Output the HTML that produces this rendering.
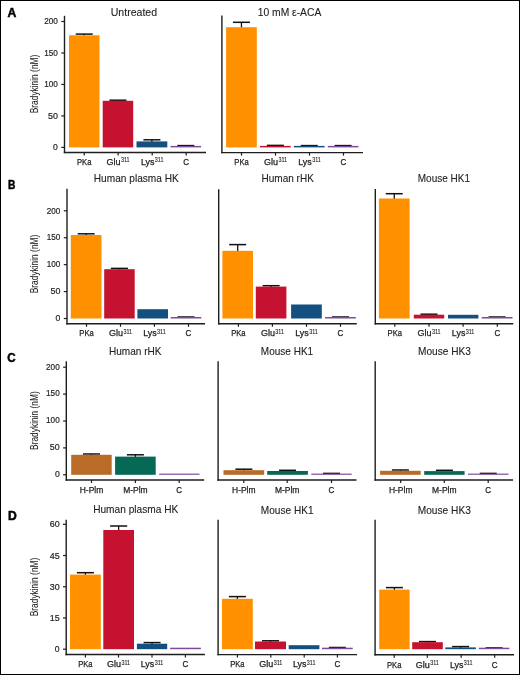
<!DOCTYPE html>
<html><head><meta charset="utf-8"><style>
html,body{margin:0;padding:0;background:#fff;}
body{width:520px;height:675px;overflow:hidden;position:relative;}
svg{position:absolute;left:0;top:0;display:block;will-change:transform;}
text{font-family:"Liberation Sans", sans-serif;}
.frame{position:absolute;left:0;top:0;width:520px;height:675px;box-sizing:border-box;border-style:solid;border-color:#000;border-width:1px 1.5px 1.5px 1px;}
</style></head><body>
<svg width="520" height="675" viewBox="0 0 520 675">
<rect x="0" y="0" width="520" height="675" fill="#fff"/>
<line x1="64.50" y1="15.80" x2="64.50" y2="153.20" stroke="#1e1e1e" stroke-width="1.4"/>
<line x1="63.80" y1="152.50" x2="206.00" y2="152.50" stroke="#1e1e1e" stroke-width="1.4"/>
<line x1="61.30" y1="147.40" x2="64.50" y2="147.40" stroke="#1e1e1e" stroke-width="1.2"/>
<text x="57.90" y="150.10" font-size="9.4" text-anchor="end" font-weight="normal" fill="#222" stroke="#222" stroke-width="0.2" textLength="4.80" lengthAdjust="spacingAndGlyphs">0</text>
<line x1="61.30" y1="115.93" x2="64.50" y2="115.93" stroke="#1e1e1e" stroke-width="1.2"/>
<text x="57.90" y="118.63" font-size="9.4" text-anchor="end" font-weight="normal" fill="#222" stroke="#222" stroke-width="0.2" textLength="9.90" lengthAdjust="spacingAndGlyphs">50</text>
<line x1="61.30" y1="84.45" x2="64.50" y2="84.45" stroke="#1e1e1e" stroke-width="1.2"/>
<text x="57.90" y="87.15" font-size="9.4" text-anchor="end" font-weight="normal" fill="#222" stroke="#222" stroke-width="0.2" textLength="13.60" lengthAdjust="spacingAndGlyphs">100</text>
<line x1="61.30" y1="52.98" x2="64.50" y2="52.98" stroke="#1e1e1e" stroke-width="1.2"/>
<text x="57.90" y="55.68" font-size="9.4" text-anchor="end" font-weight="normal" fill="#222" stroke="#222" stroke-width="0.2" textLength="13.60" lengthAdjust="spacingAndGlyphs">150</text>
<line x1="61.30" y1="21.50" x2="64.50" y2="21.50" stroke="#1e1e1e" stroke-width="1.2"/>
<text x="57.90" y="24.20" font-size="9.4" text-anchor="end" font-weight="normal" fill="#222" stroke="#222" stroke-width="0.2" textLength="13.60" lengthAdjust="spacingAndGlyphs">200</text>
<line x1="84.25" y1="34.10" x2="84.25" y2="35.80" stroke="#111" stroke-width="1.3"/>
<line x1="75.75" y1="34.10" x2="92.75" y2="34.10" stroke="#111" stroke-width="1.5"/>
<rect x="69.00" y="35.30" width="30.50" height="112.10" fill="#FF9100"/>
<line x1="117.95" y1="100.20" x2="117.95" y2="101.30" stroke="#111" stroke-width="1.3"/>
<line x1="109.45" y1="100.20" x2="126.45" y2="100.20" stroke="#111" stroke-width="1.5"/>
<rect x="102.70" y="100.80" width="30.50" height="46.60" fill="#C41230"/>
<line x1="151.90" y1="139.80" x2="151.90" y2="141.90" stroke="#111" stroke-width="1.3"/>
<line x1="143.40" y1="139.80" x2="160.40" y2="139.80" stroke="#111" stroke-width="1.5"/>
<rect x="136.50" y="141.40" width="30.80" height="6.00" fill="#13507F"/>
<line x1="185.80" y1="145.60" x2="185.80" y2="146.50" stroke="#111" stroke-width="1.3"/>
<line x1="177.30" y1="145.60" x2="194.30" y2="145.60" stroke="#111" stroke-width="1.5"/>
<rect x="170.50" y="145.90" width="30.60" height="1.50" fill="#7E4B9C"/>
<line x1="84.20" y1="152.50" x2="84.20" y2="155.50" stroke="#1e1e1e" stroke-width="1.2"/>
<text x="84.20" y="164.50" font-size="8.9" text-anchor="middle" font-weight="normal" fill="#222" stroke="#222" stroke-width="0.25" textLength="14.40" lengthAdjust="spacingAndGlyphs">PKa</text>
<line x1="118.10" y1="152.50" x2="118.10" y2="155.50" stroke="#1e1e1e" stroke-width="1.2"/>
<text x="106.60" y="164.50" font-size="8.9" text-anchor="start" font-weight="normal" fill="#222" stroke="#222" stroke-width="0.25" textLength="14.00" lengthAdjust="spacingAndGlyphs">Glu</text>
<text x="121.00" y="162.20" font-size="6.8" text-anchor="start" font-weight="normal" fill="#222" stroke="#222" stroke-width="0.1" textLength="8.60" lengthAdjust="spacingAndGlyphs">311</text>
<line x1="152.20" y1="152.50" x2="152.20" y2="155.50" stroke="#1e1e1e" stroke-width="1.2"/>
<text x="140.95" y="164.50" font-size="8.9" text-anchor="start" font-weight="normal" fill="#222" stroke="#222" stroke-width="0.25" textLength="13.50" lengthAdjust="spacingAndGlyphs">Lys</text>
<text x="154.85" y="162.20" font-size="6.8" text-anchor="start" font-weight="normal" fill="#222" stroke="#222" stroke-width="0.1" textLength="8.60" lengthAdjust="spacingAndGlyphs">311</text>
<line x1="186.20" y1="152.50" x2="186.20" y2="155.50" stroke="#1e1e1e" stroke-width="1.2"/>
<text x="186.20" y="164.50" font-size="8.9" text-anchor="middle" font-weight="normal" fill="#222" stroke="#222" stroke-width="0.25" textLength="5.80" lengthAdjust="spacingAndGlyphs">C</text>
<text x="133.90" y="15.90" font-size="10.6" text-anchor="middle" font-weight="normal" fill="#222" stroke="#222" stroke-width="0.1" textLength="46.40" lengthAdjust="spacingAndGlyphs">Untreated</text>
<line x1="221.90" y1="15.40" x2="221.90" y2="153.30" stroke="#1e1e1e" stroke-width="1.4"/>
<line x1="221.20" y1="152.60" x2="363.00" y2="152.60" stroke="#1e1e1e" stroke-width="1.4"/>
<line x1="241.45" y1="22.30" x2="241.45" y2="27.70" stroke="#111" stroke-width="1.3"/>
<line x1="232.95" y1="22.30" x2="249.95" y2="22.30" stroke="#111" stroke-width="1.5"/>
<rect x="226.10" y="27.20" width="30.70" height="120.20" fill="#FF9100"/>
<line x1="275.35" y1="145.40" x2="275.35" y2="146.40" stroke="#111" stroke-width="1.3"/>
<line x1="266.85" y1="145.40" x2="283.85" y2="145.40" stroke="#111" stroke-width="1.5"/>
<rect x="260.00" y="145.90" width="30.70" height="1.50" fill="#C41230"/>
<line x1="309.25" y1="145.60" x2="309.25" y2="146.50" stroke="#111" stroke-width="1.3"/>
<line x1="300.75" y1="145.60" x2="317.75" y2="145.60" stroke="#111" stroke-width="1.5"/>
<rect x="293.90" y="145.90" width="30.70" height="1.50" fill="#13507F"/>
<line x1="343.10" y1="145.60" x2="343.10" y2="146.50" stroke="#111" stroke-width="1.3"/>
<line x1="334.60" y1="145.60" x2="351.60" y2="145.60" stroke="#111" stroke-width="1.5"/>
<rect x="327.80" y="145.90" width="30.60" height="1.50" fill="#7E4B9C"/>
<line x1="241.50" y1="152.60" x2="241.50" y2="155.60" stroke="#1e1e1e" stroke-width="1.2"/>
<text x="241.50" y="164.60" font-size="8.9" text-anchor="middle" font-weight="normal" fill="#222" stroke="#222" stroke-width="0.25" textLength="14.40" lengthAdjust="spacingAndGlyphs">PKa</text>
<line x1="275.50" y1="152.60" x2="275.50" y2="155.60" stroke="#1e1e1e" stroke-width="1.2"/>
<text x="264.00" y="164.60" font-size="8.9" text-anchor="start" font-weight="normal" fill="#222" stroke="#222" stroke-width="0.25" textLength="14.00" lengthAdjust="spacingAndGlyphs">Glu</text>
<text x="278.40" y="162.30" font-size="6.8" text-anchor="start" font-weight="normal" fill="#222" stroke="#222" stroke-width="0.1" textLength="8.60" lengthAdjust="spacingAndGlyphs">311</text>
<line x1="309.50" y1="152.60" x2="309.50" y2="155.60" stroke="#1e1e1e" stroke-width="1.2"/>
<text x="298.25" y="164.60" font-size="8.9" text-anchor="start" font-weight="normal" fill="#222" stroke="#222" stroke-width="0.25" textLength="13.50" lengthAdjust="spacingAndGlyphs">Lys</text>
<text x="312.15" y="162.30" font-size="6.8" text-anchor="start" font-weight="normal" fill="#222" stroke="#222" stroke-width="0.1" textLength="8.60" lengthAdjust="spacingAndGlyphs">311</text>
<line x1="343.50" y1="152.60" x2="343.50" y2="155.60" stroke="#1e1e1e" stroke-width="1.2"/>
<text x="343.50" y="164.60" font-size="8.9" text-anchor="middle" font-weight="normal" fill="#222" stroke="#222" stroke-width="0.25" textLength="5.80" lengthAdjust="spacingAndGlyphs">C</text>
<text x="289.50" y="15.90" font-size="10.6" text-anchor="middle" font-weight="normal" fill="#222" stroke="#222" stroke-width="0.1" textLength="63.50" lengthAdjust="spacingAndGlyphs">10 mM ε-ACA</text>
<line x1="67.00" y1="188.80" x2="67.00" y2="324.50" stroke="#1e1e1e" stroke-width="1.4"/>
<line x1="66.30" y1="323.80" x2="205.00" y2="323.80" stroke="#1e1e1e" stroke-width="1.4"/>
<line x1="63.80" y1="318.50" x2="67.00" y2="318.50" stroke="#1e1e1e" stroke-width="1.2"/>
<text x="60.40" y="321.20" font-size="9.4" text-anchor="end" font-weight="normal" fill="#222" stroke="#222" stroke-width="0.2" textLength="4.80" lengthAdjust="spacingAndGlyphs">0</text>
<line x1="63.80" y1="291.57" x2="67.00" y2="291.57" stroke="#1e1e1e" stroke-width="1.2"/>
<text x="60.40" y="294.27" font-size="9.4" text-anchor="end" font-weight="normal" fill="#222" stroke="#222" stroke-width="0.2" textLength="9.90" lengthAdjust="spacingAndGlyphs">50</text>
<line x1="63.80" y1="264.65" x2="67.00" y2="264.65" stroke="#1e1e1e" stroke-width="1.2"/>
<text x="60.40" y="267.35" font-size="9.4" text-anchor="end" font-weight="normal" fill="#222" stroke="#222" stroke-width="0.2" textLength="13.60" lengthAdjust="spacingAndGlyphs">100</text>
<line x1="63.80" y1="237.73" x2="67.00" y2="237.73" stroke="#1e1e1e" stroke-width="1.2"/>
<text x="60.40" y="240.43" font-size="9.4" text-anchor="end" font-weight="normal" fill="#222" stroke="#222" stroke-width="0.2" textLength="13.60" lengthAdjust="spacingAndGlyphs">150</text>
<line x1="63.80" y1="210.80" x2="67.00" y2="210.80" stroke="#1e1e1e" stroke-width="1.2"/>
<text x="60.40" y="213.50" font-size="9.4" text-anchor="end" font-weight="normal" fill="#222" stroke="#222" stroke-width="0.2" textLength="13.60" lengthAdjust="spacingAndGlyphs">200</text>
<line x1="86.15" y1="233.80" x2="86.15" y2="235.50" stroke="#111" stroke-width="1.3"/>
<line x1="77.65" y1="233.80" x2="94.65" y2="233.80" stroke="#111" stroke-width="1.5"/>
<rect x="70.80" y="235.00" width="30.70" height="83.50" fill="#FF9100"/>
<line x1="119.45" y1="268.40" x2="119.45" y2="269.70" stroke="#111" stroke-width="1.3"/>
<line x1="110.95" y1="268.40" x2="127.95" y2="268.40" stroke="#111" stroke-width="1.5"/>
<rect x="104.20" y="269.20" width="30.50" height="49.30" fill="#C41230"/>
<rect x="137.40" y="309.20" width="30.60" height="9.30" fill="#13507F"/>
<line x1="186.00" y1="317.00" x2="186.00" y2="317.80" stroke="#111" stroke-width="1.3"/>
<line x1="177.50" y1="317.00" x2="194.50" y2="317.00" stroke="#111" stroke-width="1.5"/>
<rect x="170.70" y="317.00" width="30.60" height="1.50" fill="#7E4B9C"/>
<line x1="86.50" y1="323.80" x2="86.50" y2="326.80" stroke="#1e1e1e" stroke-width="1.2"/>
<text x="86.50" y="336.30" font-size="8.9" text-anchor="middle" font-weight="normal" fill="#222" stroke="#222" stroke-width="0.25" textLength="14.40" lengthAdjust="spacingAndGlyphs">PKa</text>
<line x1="120.50" y1="323.80" x2="120.50" y2="326.80" stroke="#1e1e1e" stroke-width="1.2"/>
<text x="109.00" y="336.30" font-size="8.9" text-anchor="start" font-weight="normal" fill="#222" stroke="#222" stroke-width="0.25" textLength="14.00" lengthAdjust="spacingAndGlyphs">Glu</text>
<text x="123.40" y="334.00" font-size="6.8" text-anchor="start" font-weight="normal" fill="#222" stroke="#222" stroke-width="0.1" textLength="8.60" lengthAdjust="spacingAndGlyphs">311</text>
<line x1="154.40" y1="323.80" x2="154.40" y2="326.80" stroke="#1e1e1e" stroke-width="1.2"/>
<text x="143.15" y="336.30" font-size="8.9" text-anchor="start" font-weight="normal" fill="#222" stroke="#222" stroke-width="0.25" textLength="13.50" lengthAdjust="spacingAndGlyphs">Lys</text>
<text x="157.05" y="334.00" font-size="6.8" text-anchor="start" font-weight="normal" fill="#222" stroke="#222" stroke-width="0.1" textLength="8.60" lengthAdjust="spacingAndGlyphs">311</text>
<line x1="188.50" y1="323.80" x2="188.50" y2="326.80" stroke="#1e1e1e" stroke-width="1.2"/>
<text x="188.50" y="336.30" font-size="8.9" text-anchor="middle" font-weight="normal" fill="#222" stroke="#222" stroke-width="0.25" textLength="5.80" lengthAdjust="spacingAndGlyphs">C</text>
<text x="136.30" y="182.30" font-size="10.6" text-anchor="middle" font-weight="normal" fill="#222" stroke="#222" stroke-width="0.1" textLength="85.00" lengthAdjust="spacingAndGlyphs">Human plasma HK</text>
<line x1="218.70" y1="189.20" x2="218.70" y2="324.50" stroke="#1e1e1e" stroke-width="1.4"/>
<line x1="218.00" y1="323.80" x2="356.80" y2="323.80" stroke="#1e1e1e" stroke-width="1.4"/>
<line x1="237.70" y1="244.60" x2="237.70" y2="251.30" stroke="#111" stroke-width="1.3"/>
<line x1="229.20" y1="244.60" x2="246.20" y2="244.60" stroke="#111" stroke-width="1.5"/>
<rect x="222.40" y="250.80" width="30.60" height="67.70" fill="#FF9100"/>
<line x1="271.10" y1="285.70" x2="271.10" y2="287.10" stroke="#111" stroke-width="1.3"/>
<line x1="262.60" y1="285.70" x2="279.60" y2="285.70" stroke="#111" stroke-width="1.5"/>
<rect x="255.80" y="286.60" width="30.60" height="31.90" fill="#C41230"/>
<rect x="291.10" y="304.50" width="30.70" height="14.00" fill="#13507F"/>
<line x1="340.45" y1="317.00" x2="340.45" y2="317.80" stroke="#111" stroke-width="1.3"/>
<line x1="331.95" y1="317.00" x2="348.95" y2="317.00" stroke="#111" stroke-width="1.5"/>
<rect x="325.10" y="317.00" width="30.70" height="1.50" fill="#7E4B9C"/>
<line x1="238.40" y1="323.80" x2="238.40" y2="326.80" stroke="#1e1e1e" stroke-width="1.2"/>
<text x="238.40" y="336.30" font-size="8.9" text-anchor="middle" font-weight="normal" fill="#222" stroke="#222" stroke-width="0.25" textLength="14.40" lengthAdjust="spacingAndGlyphs">PKa</text>
<line x1="272.40" y1="323.80" x2="272.40" y2="326.80" stroke="#1e1e1e" stroke-width="1.2"/>
<text x="260.90" y="336.30" font-size="8.9" text-anchor="start" font-weight="normal" fill="#222" stroke="#222" stroke-width="0.25" textLength="14.00" lengthAdjust="spacingAndGlyphs">Glu</text>
<text x="275.30" y="334.00" font-size="6.8" text-anchor="start" font-weight="normal" fill="#222" stroke="#222" stroke-width="0.1" textLength="8.60" lengthAdjust="spacingAndGlyphs">311</text>
<line x1="306.50" y1="323.80" x2="306.50" y2="326.80" stroke="#1e1e1e" stroke-width="1.2"/>
<text x="295.25" y="336.30" font-size="8.9" text-anchor="start" font-weight="normal" fill="#222" stroke="#222" stroke-width="0.25" textLength="13.50" lengthAdjust="spacingAndGlyphs">Lys</text>
<text x="309.15" y="334.00" font-size="6.8" text-anchor="start" font-weight="normal" fill="#222" stroke="#222" stroke-width="0.1" textLength="8.60" lengthAdjust="spacingAndGlyphs">311</text>
<line x1="340.50" y1="323.80" x2="340.50" y2="326.80" stroke="#1e1e1e" stroke-width="1.2"/>
<text x="340.50" y="336.30" font-size="8.9" text-anchor="middle" font-weight="normal" fill="#222" stroke="#222" stroke-width="0.25" textLength="5.80" lengthAdjust="spacingAndGlyphs">C</text>
<text x="287.70" y="182.20" font-size="10.6" text-anchor="middle" font-weight="normal" fill="#222" stroke="#222" stroke-width="0.1" textLength="52.30" lengthAdjust="spacingAndGlyphs">Human rHK</text>
<line x1="375.30" y1="189.10" x2="375.30" y2="324.50" stroke="#1e1e1e" stroke-width="1.4"/>
<line x1="374.60" y1="323.80" x2="513.30" y2="323.80" stroke="#1e1e1e" stroke-width="1.4"/>
<line x1="394.25" y1="193.70" x2="394.25" y2="199.00" stroke="#111" stroke-width="1.3"/>
<line x1="385.75" y1="193.70" x2="402.75" y2="193.70" stroke="#111" stroke-width="1.5"/>
<rect x="378.90" y="198.50" width="30.70" height="120.00" fill="#FF9100"/>
<line x1="429.00" y1="314.20" x2="429.00" y2="315.20" stroke="#111" stroke-width="1.3"/>
<line x1="420.50" y1="314.20" x2="437.50" y2="314.20" stroke="#111" stroke-width="1.5"/>
<rect x="413.80" y="314.70" width="30.40" height="3.80" fill="#C41230"/>
<rect x="448.00" y="314.80" width="30.40" height="3.70" fill="#13507F"/>
<line x1="497.10" y1="317.00" x2="497.10" y2="317.80" stroke="#111" stroke-width="1.3"/>
<line x1="488.60" y1="317.00" x2="505.60" y2="317.00" stroke="#111" stroke-width="1.5"/>
<rect x="481.70" y="317.00" width="30.80" height="1.50" fill="#7E4B9C"/>
<line x1="394.80" y1="323.80" x2="394.80" y2="326.80" stroke="#1e1e1e" stroke-width="1.2"/>
<text x="394.80" y="336.30" font-size="8.9" text-anchor="middle" font-weight="normal" fill="#222" stroke="#222" stroke-width="0.25" textLength="14.40" lengthAdjust="spacingAndGlyphs">PKa</text>
<line x1="429.00" y1="323.80" x2="429.00" y2="326.80" stroke="#1e1e1e" stroke-width="1.2"/>
<text x="417.50" y="336.30" font-size="8.9" text-anchor="start" font-weight="normal" fill="#222" stroke="#222" stroke-width="0.25" textLength="14.00" lengthAdjust="spacingAndGlyphs">Glu</text>
<text x="431.90" y="334.00" font-size="6.8" text-anchor="start" font-weight="normal" fill="#222" stroke="#222" stroke-width="0.1" textLength="8.60" lengthAdjust="spacingAndGlyphs">311</text>
<line x1="463.10" y1="323.80" x2="463.10" y2="326.80" stroke="#1e1e1e" stroke-width="1.2"/>
<text x="451.85" y="336.30" font-size="8.9" text-anchor="start" font-weight="normal" fill="#222" stroke="#222" stroke-width="0.25" textLength="13.50" lengthAdjust="spacingAndGlyphs">Lys</text>
<text x="465.75" y="334.00" font-size="6.8" text-anchor="start" font-weight="normal" fill="#222" stroke="#222" stroke-width="0.1" textLength="8.60" lengthAdjust="spacingAndGlyphs">311</text>
<line x1="497.30" y1="323.80" x2="497.30" y2="326.80" stroke="#1e1e1e" stroke-width="1.2"/>
<text x="497.30" y="336.30" font-size="8.9" text-anchor="middle" font-weight="normal" fill="#222" stroke="#222" stroke-width="0.25" textLength="5.80" lengthAdjust="spacingAndGlyphs">C</text>
<text x="443.90" y="182.20" font-size="10.6" text-anchor="middle" font-weight="normal" fill="#222" stroke="#222" stroke-width="0.1" textLength="52.30" lengthAdjust="spacingAndGlyphs">Mouse HK1</text>
<line x1="66.30" y1="361.30" x2="66.30" y2="480.70" stroke="#1e1e1e" stroke-width="1.4"/>
<line x1="65.60" y1="480.00" x2="204.20" y2="480.00" stroke="#1e1e1e" stroke-width="1.4"/>
<line x1="63.10" y1="474.80" x2="66.30" y2="474.80" stroke="#1e1e1e" stroke-width="1.2"/>
<text x="59.70" y="477.10" font-size="9.4" text-anchor="end" font-weight="normal" fill="#222" stroke="#222" stroke-width="0.2" textLength="4.80" lengthAdjust="spacingAndGlyphs">0</text>
<line x1="63.10" y1="447.90" x2="66.30" y2="447.90" stroke="#1e1e1e" stroke-width="1.2"/>
<text x="59.70" y="450.20" font-size="9.4" text-anchor="end" font-weight="normal" fill="#222" stroke="#222" stroke-width="0.2" textLength="9.90" lengthAdjust="spacingAndGlyphs">50</text>
<line x1="63.10" y1="421.00" x2="66.30" y2="421.00" stroke="#1e1e1e" stroke-width="1.2"/>
<text x="59.70" y="423.30" font-size="9.4" text-anchor="end" font-weight="normal" fill="#222" stroke="#222" stroke-width="0.2" textLength="13.60" lengthAdjust="spacingAndGlyphs">100</text>
<line x1="63.10" y1="394.10" x2="66.30" y2="394.10" stroke="#1e1e1e" stroke-width="1.2"/>
<text x="59.70" y="396.40" font-size="9.4" text-anchor="end" font-weight="normal" fill="#222" stroke="#222" stroke-width="0.2" textLength="13.60" lengthAdjust="spacingAndGlyphs">150</text>
<line x1="63.10" y1="367.20" x2="66.30" y2="367.20" stroke="#1e1e1e" stroke-width="1.2"/>
<text x="59.70" y="369.50" font-size="9.4" text-anchor="end" font-weight="normal" fill="#222" stroke="#222" stroke-width="0.2" textLength="13.60" lengthAdjust="spacingAndGlyphs">200</text>
<line x1="91.45" y1="454.00" x2="91.45" y2="455.30" stroke="#111" stroke-width="1.3"/>
<line x1="82.95" y1="454.00" x2="99.95" y2="454.00" stroke="#111" stroke-width="1.5"/>
<rect x="71.20" y="454.80" width="40.50" height="20.00" fill="#B86C28"/>
<line x1="135.40" y1="454.80" x2="135.40" y2="457.10" stroke="#111" stroke-width="1.3"/>
<line x1="126.90" y1="454.80" x2="143.90" y2="454.80" stroke="#111" stroke-width="1.5"/>
<rect x="115.10" y="456.60" width="40.60" height="18.20" fill="#066955"/>
<rect x="159.20" y="473.60" width="40.30" height="1.20" fill="#7E4B9C"/>
<line x1="91.50" y1="480.00" x2="91.50" y2="483.00" stroke="#1e1e1e" stroke-width="1.2"/>
<text x="91.50" y="493.00" font-size="8.9" text-anchor="middle" font-weight="normal" fill="#222" stroke="#222" stroke-width="0.25" textLength="23.50" lengthAdjust="spacingAndGlyphs">H-Plm</text>
<line x1="135.40" y1="480.00" x2="135.40" y2="483.00" stroke="#1e1e1e" stroke-width="1.2"/>
<text x="135.40" y="493.00" font-size="8.9" text-anchor="middle" font-weight="normal" fill="#222" stroke="#222" stroke-width="0.25" textLength="24.50" lengthAdjust="spacingAndGlyphs">M-Plm</text>
<line x1="179.20" y1="480.00" x2="179.20" y2="483.00" stroke="#1e1e1e" stroke-width="1.2"/>
<text x="179.20" y="493.00" font-size="8.9" text-anchor="middle" font-weight="normal" fill="#222" stroke="#222" stroke-width="0.25" textLength="5.80" lengthAdjust="spacingAndGlyphs">C</text>
<text x="135.20" y="355.00" font-size="10.6" text-anchor="middle" font-weight="normal" fill="#222" stroke="#222" stroke-width="0.1" textLength="52.60" lengthAdjust="spacingAndGlyphs">Human rHK</text>
<line x1="218.10" y1="361.30" x2="218.10" y2="480.70" stroke="#1e1e1e" stroke-width="1.4"/>
<line x1="217.40" y1="480.00" x2="356.50" y2="480.00" stroke="#1e1e1e" stroke-width="1.4"/>
<line x1="243.85" y1="469.20" x2="243.85" y2="470.70" stroke="#111" stroke-width="1.3"/>
<line x1="235.35" y1="469.20" x2="252.35" y2="469.20" stroke="#111" stroke-width="1.5"/>
<rect x="223.50" y="470.20" width="40.70" height="4.60" fill="#B86C28"/>
<line x1="287.55" y1="470.30" x2="287.55" y2="471.50" stroke="#111" stroke-width="1.3"/>
<line x1="279.05" y1="470.30" x2="296.05" y2="470.30" stroke="#111" stroke-width="1.5"/>
<rect x="267.20" y="471.00" width="40.70" height="3.80" fill="#066955"/>
<line x1="331.50" y1="473.40" x2="331.50" y2="474.10" stroke="#111" stroke-width="1.3"/>
<line x1="323.00" y1="473.40" x2="340.00" y2="473.40" stroke="#111" stroke-width="1.5"/>
<rect x="311.30" y="473.60" width="40.40" height="1.20" fill="#7E4B9C"/>
<line x1="243.80" y1="480.00" x2="243.80" y2="483.00" stroke="#1e1e1e" stroke-width="1.2"/>
<text x="243.80" y="493.00" font-size="8.9" text-anchor="middle" font-weight="normal" fill="#222" stroke="#222" stroke-width="0.25" textLength="23.50" lengthAdjust="spacingAndGlyphs">H-Plm</text>
<line x1="287.20" y1="480.00" x2="287.20" y2="483.00" stroke="#1e1e1e" stroke-width="1.2"/>
<text x="287.20" y="493.00" font-size="8.9" text-anchor="middle" font-weight="normal" fill="#222" stroke="#222" stroke-width="0.25" textLength="24.50" lengthAdjust="spacingAndGlyphs">M-Plm</text>
<line x1="331.50" y1="480.00" x2="331.50" y2="483.00" stroke="#1e1e1e" stroke-width="1.2"/>
<text x="331.50" y="493.00" font-size="8.9" text-anchor="middle" font-weight="normal" fill="#222" stroke="#222" stroke-width="0.25" textLength="5.80" lengthAdjust="spacingAndGlyphs">C</text>
<text x="287.00" y="354.90" font-size="10.6" text-anchor="middle" font-weight="normal" fill="#222" stroke="#222" stroke-width="0.1" textLength="52.40" lengthAdjust="spacingAndGlyphs">Mouse HK1</text>
<line x1="375.20" y1="361.30" x2="375.20" y2="480.70" stroke="#1e1e1e" stroke-width="1.4"/>
<line x1="374.50" y1="480.00" x2="513.10" y2="480.00" stroke="#1e1e1e" stroke-width="1.4"/>
<line x1="400.40" y1="470.00" x2="400.40" y2="471.30" stroke="#111" stroke-width="1.3"/>
<line x1="391.90" y1="470.00" x2="408.90" y2="470.00" stroke="#111" stroke-width="1.5"/>
<rect x="380.10" y="470.80" width="40.60" height="4.00" fill="#B86C28"/>
<line x1="444.40" y1="470.30" x2="444.40" y2="471.60" stroke="#111" stroke-width="1.3"/>
<line x1="435.90" y1="470.30" x2="452.90" y2="470.30" stroke="#111" stroke-width="1.5"/>
<rect x="424.20" y="471.10" width="40.40" height="3.70" fill="#066955"/>
<line x1="488.25" y1="473.40" x2="488.25" y2="474.10" stroke="#111" stroke-width="1.3"/>
<line x1="479.75" y1="473.40" x2="496.75" y2="473.40" stroke="#111" stroke-width="1.5"/>
<rect x="468.00" y="473.60" width="40.50" height="1.20" fill="#7E4B9C"/>
<line x1="400.70" y1="480.00" x2="400.70" y2="483.00" stroke="#1e1e1e" stroke-width="1.2"/>
<text x="400.70" y="493.00" font-size="8.9" text-anchor="middle" font-weight="normal" fill="#222" stroke="#222" stroke-width="0.25" textLength="23.50" lengthAdjust="spacingAndGlyphs">H-Plm</text>
<line x1="444.30" y1="480.00" x2="444.30" y2="483.00" stroke="#1e1e1e" stroke-width="1.2"/>
<text x="444.30" y="493.00" font-size="8.9" text-anchor="middle" font-weight="normal" fill="#222" stroke="#222" stroke-width="0.25" textLength="24.50" lengthAdjust="spacingAndGlyphs">M-Plm</text>
<line x1="488.20" y1="480.00" x2="488.20" y2="483.00" stroke="#1e1e1e" stroke-width="1.2"/>
<text x="488.20" y="493.00" font-size="8.9" text-anchor="middle" font-weight="normal" fill="#222" stroke="#222" stroke-width="0.25" textLength="5.80" lengthAdjust="spacingAndGlyphs">C</text>
<text x="444.40" y="354.90" font-size="10.6" text-anchor="middle" font-weight="normal" fill="#222" stroke="#222" stroke-width="0.1" textLength="52.80" lengthAdjust="spacingAndGlyphs">Mouse HK3</text>
<line x1="66.20" y1="519.80" x2="66.20" y2="655.20" stroke="#1e1e1e" stroke-width="1.4"/>
<line x1="65.50" y1="654.50" x2="204.90" y2="654.50" stroke="#1e1e1e" stroke-width="1.4"/>
<line x1="63.00" y1="649.20" x2="66.20" y2="649.20" stroke="#1e1e1e" stroke-width="1.2"/>
<text x="59.60" y="652.30" font-size="9.4" text-anchor="end" font-weight="normal" fill="#222" stroke="#222" stroke-width="0.2" textLength="4.80" lengthAdjust="spacingAndGlyphs">0</text>
<line x1="63.00" y1="617.97" x2="66.20" y2="617.97" stroke="#1e1e1e" stroke-width="1.2"/>
<text x="59.60" y="621.07" font-size="9.4" text-anchor="end" font-weight="normal" fill="#222" stroke="#222" stroke-width="0.2" textLength="9.90" lengthAdjust="spacingAndGlyphs">15</text>
<line x1="63.00" y1="586.75" x2="66.20" y2="586.75" stroke="#1e1e1e" stroke-width="1.2"/>
<text x="59.60" y="589.85" font-size="9.4" text-anchor="end" font-weight="normal" fill="#222" stroke="#222" stroke-width="0.2" textLength="9.90" lengthAdjust="spacingAndGlyphs">30</text>
<line x1="63.00" y1="555.52" x2="66.20" y2="555.52" stroke="#1e1e1e" stroke-width="1.2"/>
<text x="59.60" y="558.62" font-size="9.4" text-anchor="end" font-weight="normal" fill="#222" stroke="#222" stroke-width="0.2" textLength="9.90" lengthAdjust="spacingAndGlyphs">45</text>
<line x1="63.00" y1="524.30" x2="66.20" y2="524.30" stroke="#1e1e1e" stroke-width="1.2"/>
<text x="59.60" y="527.40" font-size="9.4" text-anchor="end" font-weight="normal" fill="#222" stroke="#222" stroke-width="0.2" textLength="9.90" lengthAdjust="spacingAndGlyphs">60</text>
<line x1="85.40" y1="572.70" x2="85.40" y2="575.10" stroke="#111" stroke-width="1.3"/>
<line x1="76.90" y1="572.70" x2="93.90" y2="572.70" stroke="#111" stroke-width="1.5"/>
<rect x="70.00" y="574.60" width="30.80" height="74.60" fill="#FF9100"/>
<line x1="118.65" y1="526.00" x2="118.65" y2="530.50" stroke="#111" stroke-width="1.3"/>
<line x1="110.15" y1="526.00" x2="127.15" y2="526.00" stroke="#111" stroke-width="1.5"/>
<rect x="103.30" y="530.00" width="30.70" height="119.20" fill="#C41230"/>
<line x1="152.05" y1="642.60" x2="152.05" y2="644.20" stroke="#111" stroke-width="1.3"/>
<line x1="143.55" y1="642.60" x2="160.55" y2="642.60" stroke="#111" stroke-width="1.5"/>
<rect x="136.90" y="643.70" width="30.30" height="5.50" fill="#13507F"/>
<rect x="170.10" y="647.70" width="30.80" height="1.50" fill="#7E4B9C"/>
<line x1="85.40" y1="654.50" x2="85.40" y2="657.50" stroke="#1e1e1e" stroke-width="1.2"/>
<text x="85.40" y="667.30" font-size="8.9" text-anchor="middle" font-weight="normal" fill="#222" stroke="#222" stroke-width="0.25" textLength="14.40" lengthAdjust="spacingAndGlyphs">PKa</text>
<line x1="118.50" y1="654.50" x2="118.50" y2="657.50" stroke="#1e1e1e" stroke-width="1.2"/>
<text x="107.00" y="667.30" font-size="8.9" text-anchor="start" font-weight="normal" fill="#222" stroke="#222" stroke-width="0.25" textLength="14.00" lengthAdjust="spacingAndGlyphs">Glu</text>
<text x="121.40" y="665.00" font-size="6.8" text-anchor="start" font-weight="normal" fill="#222" stroke="#222" stroke-width="0.1" textLength="8.60" lengthAdjust="spacingAndGlyphs">311</text>
<line x1="152.00" y1="654.50" x2="152.00" y2="657.50" stroke="#1e1e1e" stroke-width="1.2"/>
<text x="140.75" y="667.30" font-size="8.9" text-anchor="start" font-weight="normal" fill="#222" stroke="#222" stroke-width="0.25" textLength="13.50" lengthAdjust="spacingAndGlyphs">Lys</text>
<text x="154.65" y="665.00" font-size="6.8" text-anchor="start" font-weight="normal" fill="#222" stroke="#222" stroke-width="0.1" textLength="8.60" lengthAdjust="spacingAndGlyphs">311</text>
<line x1="185.40" y1="654.50" x2="185.40" y2="657.50" stroke="#1e1e1e" stroke-width="1.2"/>
<text x="185.40" y="667.30" font-size="8.9" text-anchor="middle" font-weight="normal" fill="#222" stroke="#222" stroke-width="0.25" textLength="5.80" lengthAdjust="spacingAndGlyphs">C</text>
<text x="135.70" y="513.30" font-size="10.6" text-anchor="middle" font-weight="normal" fill="#222" stroke="#222" stroke-width="0.1" textLength="85.10" lengthAdjust="spacingAndGlyphs">Human plasma HK</text>
<line x1="218.10" y1="519.80" x2="218.10" y2="655.30" stroke="#1e1e1e" stroke-width="1.4"/>
<line x1="217.40" y1="654.60" x2="357.00" y2="654.60" stroke="#1e1e1e" stroke-width="1.4"/>
<line x1="237.40" y1="596.60" x2="237.40" y2="599.30" stroke="#111" stroke-width="1.3"/>
<line x1="228.90" y1="596.60" x2="245.90" y2="596.60" stroke="#111" stroke-width="1.5"/>
<rect x="222.00" y="598.80" width="30.80" height="50.40" fill="#FF9100"/>
<line x1="270.50" y1="640.80" x2="270.50" y2="642.00" stroke="#111" stroke-width="1.3"/>
<line x1="262.00" y1="640.80" x2="279.00" y2="640.80" stroke="#111" stroke-width="1.5"/>
<rect x="255.00" y="641.50" width="31.00" height="7.70" fill="#C41230"/>
<rect x="288.70" y="645.20" width="30.70" height="4.00" fill="#13507F"/>
<line x1="337.35" y1="647.50" x2="337.35" y2="648.60" stroke="#111" stroke-width="1.3"/>
<line x1="328.85" y1="647.50" x2="345.85" y2="647.50" stroke="#111" stroke-width="1.5"/>
<rect x="322.00" y="647.70" width="30.70" height="1.50" fill="#7E4B9C"/>
<line x1="237.40" y1="654.60" x2="237.40" y2="657.60" stroke="#1e1e1e" stroke-width="1.2"/>
<text x="237.40" y="667.40" font-size="8.9" text-anchor="middle" font-weight="normal" fill="#222" stroke="#222" stroke-width="0.25" textLength="14.40" lengthAdjust="spacingAndGlyphs">PKa</text>
<line x1="270.80" y1="654.60" x2="270.80" y2="657.60" stroke="#1e1e1e" stroke-width="1.2"/>
<text x="259.30" y="667.40" font-size="8.9" text-anchor="start" font-weight="normal" fill="#222" stroke="#222" stroke-width="0.25" textLength="14.00" lengthAdjust="spacingAndGlyphs">Glu</text>
<text x="273.70" y="665.10" font-size="6.8" text-anchor="start" font-weight="normal" fill="#222" stroke="#222" stroke-width="0.1" textLength="8.60" lengthAdjust="spacingAndGlyphs">311</text>
<line x1="304.20" y1="654.60" x2="304.20" y2="657.60" stroke="#1e1e1e" stroke-width="1.2"/>
<text x="292.95" y="667.40" font-size="8.9" text-anchor="start" font-weight="normal" fill="#222" stroke="#222" stroke-width="0.25" textLength="13.50" lengthAdjust="spacingAndGlyphs">Lys</text>
<text x="306.85" y="665.10" font-size="6.8" text-anchor="start" font-weight="normal" fill="#222" stroke="#222" stroke-width="0.1" textLength="8.60" lengthAdjust="spacingAndGlyphs">311</text>
<line x1="337.40" y1="654.60" x2="337.40" y2="657.60" stroke="#1e1e1e" stroke-width="1.2"/>
<text x="337.40" y="667.40" font-size="8.9" text-anchor="middle" font-weight="normal" fill="#222" stroke="#222" stroke-width="0.25" textLength="5.80" lengthAdjust="spacingAndGlyphs">C</text>
<text x="287.20" y="513.50" font-size="10.6" text-anchor="middle" font-weight="normal" fill="#222" stroke="#222" stroke-width="0.1" textLength="52.70" lengthAdjust="spacingAndGlyphs">Mouse HK1</text>
<line x1="375.10" y1="519.80" x2="375.10" y2="655.40" stroke="#1e1e1e" stroke-width="1.4"/>
<line x1="374.40" y1="654.70" x2="514.00" y2="654.70" stroke="#1e1e1e" stroke-width="1.4"/>
<line x1="394.40" y1="587.60" x2="394.40" y2="590.10" stroke="#111" stroke-width="1.3"/>
<line x1="385.90" y1="587.60" x2="402.90" y2="587.60" stroke="#111" stroke-width="1.5"/>
<rect x="379.20" y="589.60" width="30.40" height="59.60" fill="#FF9100"/>
<line x1="427.50" y1="641.60" x2="427.50" y2="642.70" stroke="#111" stroke-width="1.3"/>
<line x1="419.00" y1="641.60" x2="436.00" y2="641.60" stroke="#111" stroke-width="1.5"/>
<rect x="412.20" y="642.20" width="30.60" height="7.00" fill="#C41230"/>
<line x1="460.60" y1="646.60" x2="460.60" y2="647.90" stroke="#111" stroke-width="1.3"/>
<line x1="452.10" y1="646.60" x2="469.10" y2="646.60" stroke="#111" stroke-width="1.5"/>
<rect x="445.30" y="647.40" width="30.60" height="1.80" fill="#13507F"/>
<line x1="494.10" y1="647.90" x2="494.10" y2="648.60" stroke="#111" stroke-width="1.3"/>
<line x1="485.60" y1="647.90" x2="502.60" y2="647.90" stroke="#111" stroke-width="1.5"/>
<rect x="478.80" y="647.70" width="30.60" height="1.50" fill="#7E4B9C"/>
<line x1="394.20" y1="654.70" x2="394.20" y2="657.70" stroke="#1e1e1e" stroke-width="1.2"/>
<text x="394.20" y="667.50" font-size="8.9" text-anchor="middle" font-weight="normal" fill="#222" stroke="#222" stroke-width="0.25" textLength="14.40" lengthAdjust="spacingAndGlyphs">PKa</text>
<line x1="427.30" y1="654.70" x2="427.30" y2="657.70" stroke="#1e1e1e" stroke-width="1.2"/>
<text x="415.80" y="667.50" font-size="8.9" text-anchor="start" font-weight="normal" fill="#222" stroke="#222" stroke-width="0.25" textLength="14.00" lengthAdjust="spacingAndGlyphs">Glu</text>
<text x="430.20" y="665.20" font-size="6.8" text-anchor="start" font-weight="normal" fill="#222" stroke="#222" stroke-width="0.1" textLength="8.60" lengthAdjust="spacingAndGlyphs">311</text>
<line x1="461.20" y1="654.70" x2="461.20" y2="657.70" stroke="#1e1e1e" stroke-width="1.2"/>
<text x="449.95" y="667.50" font-size="8.9" text-anchor="start" font-weight="normal" fill="#222" stroke="#222" stroke-width="0.25" textLength="13.50" lengthAdjust="spacingAndGlyphs">Lys</text>
<text x="463.85" y="665.20" font-size="6.8" text-anchor="start" font-weight="normal" fill="#222" stroke="#222" stroke-width="0.1" textLength="8.60" lengthAdjust="spacingAndGlyphs">311</text>
<line x1="494.70" y1="654.70" x2="494.70" y2="657.70" stroke="#1e1e1e" stroke-width="1.2"/>
<text x="494.70" y="667.50" font-size="8.9" text-anchor="middle" font-weight="normal" fill="#222" stroke="#222" stroke-width="0.25" textLength="5.80" lengthAdjust="spacingAndGlyphs">C</text>
<text x="444.30" y="513.70" font-size="10.6" text-anchor="middle" font-weight="normal" fill="#222" stroke="#222" stroke-width="0.1" textLength="53.10" lengthAdjust="spacingAndGlyphs">Mouse HK3</text>
<text x="7.6" y="17.4" font-size="12.6" font-weight="bold" fill="#000" stroke="#000" stroke-width="0.5" text-anchor="start" textLength="8.8" lengthAdjust="spacingAndGlyphs">A</text>
<text x="8.0" y="188.6" font-size="12.6" font-weight="bold" fill="#000" stroke="#000" stroke-width="0.5" text-anchor="start" textLength="7.4" lengthAdjust="spacingAndGlyphs">B</text>
<text x="7.3" y="361.8" font-size="12.6" font-weight="bold" fill="#000" stroke="#000" stroke-width="0.5" text-anchor="start" textLength="8.4" lengthAdjust="spacingAndGlyphs">C</text>
<text x="8.0" y="519.5" font-size="12.6" font-weight="bold" fill="#000" stroke="#000" stroke-width="0.5" text-anchor="start" textLength="8.8" lengthAdjust="spacingAndGlyphs">D</text>
<text x="0" y="0" transform="translate(38.3 84.0) rotate(-90)" font-size="10.6" text-anchor="middle" fill="#222" stroke="#222" stroke-width="0.05" textLength="58.6" lengthAdjust="spacingAndGlyphs">Bradykinin (nM)</text>
<text x="0" y="0" transform="translate(38.3 264.0) rotate(-90)" font-size="10.6" text-anchor="middle" fill="#222" stroke="#222" stroke-width="0.05" textLength="58.6" lengthAdjust="spacingAndGlyphs">Bradykinin (nM)</text>
<text x="0" y="0" transform="translate(38.3 420.6) rotate(-90)" font-size="10.6" text-anchor="middle" fill="#222" stroke="#222" stroke-width="0.05" textLength="58.6" lengthAdjust="spacingAndGlyphs">Bradykinin (nM)</text>
<text x="0" y="0" transform="translate(38.3 587.0) rotate(-90)" font-size="10.6" text-anchor="middle" fill="#222" stroke="#222" stroke-width="0.05" textLength="58.6" lengthAdjust="spacingAndGlyphs">Bradykinin (nM)</text>
</svg>
<div class="frame"></div>
</body></html>
